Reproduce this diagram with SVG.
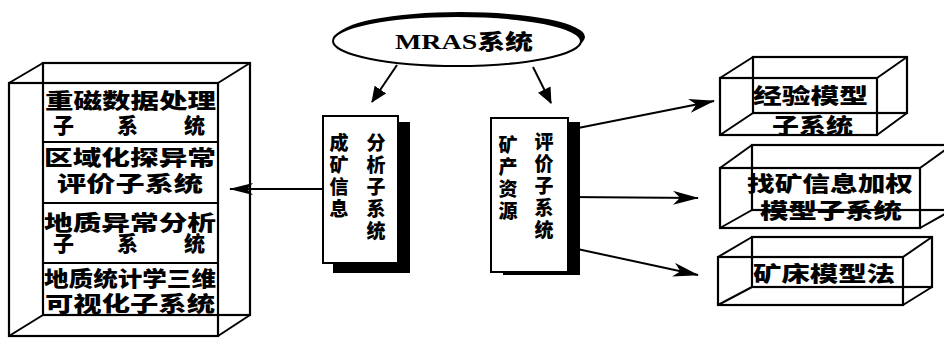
<svg xmlns="http://www.w3.org/2000/svg" width="944" height="340" viewBox="0 0 944 340">
<style>
.ln{fill:none;stroke:#000;stroke-width:2}
.bx{fill:none;stroke:#000;stroke-width:2.2}
.t{font-family:"Liberation Sans","Noto Sans CJK SC",sans-serif;font-weight:900;font-size:21px;fill:#000}
.tc{font-family:"Liberation Sans","Noto Sans CJK SC",sans-serif;font-weight:900;font-size:19px;fill:#000;text-anchor:middle}
.m{font-family:"Liberation Serif","Noto Sans CJK SC",serif;font-weight:bold;font-size:21px;fill:#000}
.cn{fill:none;stroke:#000;stroke-width:2}
</style>
<defs>
<marker id="ah" markerWidth="16" markerHeight="14" refX="15" refY="7" orient="auto" markerUnits="userSpaceOnUse">
<path d="M0,0 L16,7 L0,14 Z" fill="#000"/>
</marker>
<marker id="bh" markerWidth="26" markerHeight="14" refX="25" refY="7" orient="auto" markerUnits="userSpaceOnUse">
<path d="M0,0 L26,7 L0,14 L7,7 Z" fill="#000"/>
</marker>
<marker id="sh" markerWidth="24" markerHeight="12" refX="23" refY="6" orient="auto" markerUnits="userSpaceOnUse">
<path d="M0,0 L24,6 L0,12 L6,6 Z" fill="#000"/>
</marker>
</defs>

<g id="mras">
<ellipse cx="461" cy="37" rx="124" ry="25" fill="#000"/>
<ellipse cx="457" cy="41" rx="124" ry="25" fill="#fff" stroke="#000" stroke-width="2"/>
<text class="m" x="395" y="49" textLength="138" lengthAdjust="spacingAndGlyphs">MRAS<tspan font-family="Liberation Sans,Noto Sans CJK SC,sans-serif" font-weight="900">系统</tspan></text>
</g>

<g id="left-box">
<rect class="bx" x="43" y="63" width="207" height="252"/>
<line class="ln" x1="9" y1="83" x2="43" y2="63"/>
<line class="ln" x1="218" y1="83" x2="250" y2="63"/>
<line class="ln" x1="9" y1="336" x2="43" y2="315"/>
<line class="ln" x1="218" y1="336" x2="250" y2="315"/>
<rect class="bx" x="9" y="83" width="209" height="253"/>
<line class="ln" x1="43" y1="142" x2="218" y2="142"/>
<line class="ln" x1="43" y1="203" x2="218" y2="203"/>
<line class="ln" x1="43" y1="263" x2="218" y2="263"/>
<text class="t" x="45" y="108" textLength="171" lengthAdjust="spacingAndGlyphs">重磁数据处理</text>
<text class="t" x="53 117 184" y="133">子系统</text>
<text class="t" x="44" y="165" textLength="172" lengthAdjust="spacingAndGlyphs">区域化探异常</text>
<text class="t" x="57" y="191" textLength="146" lengthAdjust="spacingAndGlyphs">评价子系统</text>
<text class="t" x="44" y="230" textLength="172" lengthAdjust="spacingAndGlyphs">地质异常分析</text>
<text class="t" x="53 117 184" y="251">子系统</text>
<text class="t" x="44" y="286" textLength="172" lengthAdjust="spacingAndGlyphs">地质统计学三维</text>
<text class="t" x="45" y="311" textLength="170" lengthAdjust="spacingAndGlyphs">可视化子系统</text>
</g>

<g id="info-box">
<rect x="333" y="122" width="77" height="151" fill="#000"/>
<rect x="323" y="116" width="75" height="147" fill="#fff" stroke="#000" stroke-width="2"/>
<text class="tc"><tspan x="339" y="150">成</tspan><tspan x="339" y="172">矿</tspan><tspan x="339" y="194">信</tspan><tspan x="339" y="216">息</tspan></text>
<text class="tc"><tspan x="376" y="150">分</tspan><tspan x="376" y="172">析</tspan><tspan x="376" y="194">子</tspan><tspan x="376" y="216">系</tspan><tspan x="376" y="238">统</tspan></text>
</g>

<g id="resource-box">
<rect x="503" y="122" width="77" height="153" fill="#000"/>
<rect x="491" y="118" width="77" height="154" fill="#fff" stroke="#000" stroke-width="2"/>
<text class="tc"><tspan x="508" y="152">矿</tspan><tspan x="508" y="174">产</tspan><tspan x="508" y="196">资</tspan><tspan x="508" y="218">源</tspan></text>
<text class="tc"><tspan x="544" y="149">评</tspan><tspan x="544" y="171">价</tspan><tspan x="544" y="193">子</tspan><tspan x="544" y="215">系</tspan><tspan x="544" y="237">统</tspan></text>
</g>

<g id="empirical-box">
<rect class="bx" x="753" y="57" width="154" height="56"/>
<line class="ln" x1="720" y1="78" x2="753" y2="57"/>
<line class="ln" x1="877" y1="78" x2="907" y2="57"/>
<line class="ln" x1="720" y1="135" x2="753" y2="113"/>
<line class="ln" x1="877" y1="135" x2="907" y2="113"/>
<rect class="bx" x="720" y="78" width="157" height="57"/>
<text class="t" x="753" y="103" textLength="115" lengthAdjust="spacingAndGlyphs">经验模型</text>
<text class="t" x="772" y="133" textLength="81" lengthAdjust="spacingAndGlyphs">子系统</text>
</g>

<g id="weight-box">
<rect class="bx" x="752" y="145" width="200" height="65"/>
<line class="ln" x1="720" y1="168" x2="752" y2="145"/>
<line class="ln" x1="920" y1="168" x2="952" y2="145"/>
<line class="ln" x1="720" y1="228" x2="752" y2="210"/>
<line class="ln" x1="920" y1="228" x2="952" y2="210"/>
<rect class="bx" x="720" y="168" width="200" height="60"/>
<text class="t" x="747" y="191" textLength="166" lengthAdjust="spacingAndGlyphs">找矿信息加权</text>
<text class="t" x="760" y="218" textLength="142" lengthAdjust="spacingAndGlyphs">模型子系统</text>
</g>

<g id="deposit-box">
<rect class="bx" x="752" y="237" width="180" height="50"/>
<line class="ln" x1="718" y1="257" x2="752" y2="237"/>
<line class="ln" x1="903" y1="257" x2="932" y2="237"/>
<line class="ln" x1="718" y1="305" x2="752" y2="287"/>
<line class="ln" x1="903" y1="305" x2="932" y2="287"/>
<rect class="bx" x="718" y="257" width="185" height="48"/>
<text class="t" x="753" y="281" textLength="142" lengthAdjust="spacingAndGlyphs">矿床模型法</text>
</g>

<g id="connectors">
<line class="cn" x1="397" y1="65" x2="372" y2="102" marker-end="url(#ah)"/>
<line class="cn" x1="533" y1="67" x2="551" y2="103" marker-end="url(#ah)"/>
<line class="cn" x1="323" y1="189" x2="230" y2="189" marker-end="url(#sh)"/>
<line class="cn" x1="568" y1="130" x2="714" y2="101" marker-end="url(#bh)"/>
<line class="cn" x1="568" y1="197" x2="698" y2="198" marker-end="url(#bh)"/>
<line class="cn" x1="568" y1="247" x2="698" y2="275" marker-end="url(#bh)"/>
</g>
</svg>
